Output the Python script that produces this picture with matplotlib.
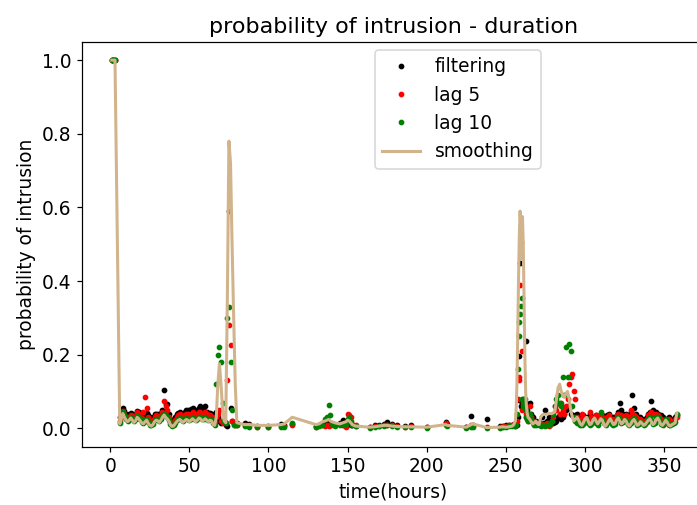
import numpy as np
import matplotlib
matplotlib.use("Agg")
import matplotlib.pyplot as plt

plt.rcParams['font.size'] = 12.2
plt.rcParams['axes.titlesize'] = 14.6

# time stamps (hours) of the observations
t_start = [1, 2, 3]
t_first = list(range(6, 81))
t_sparse = [85, 88, 93, 100, 108, 110, 115,
            130, 132, 134, 136, 137, 138, 139, 140, 142, 145,
            147, 149, 150, 151, 152, 153, 155,
            164, 167, 170, 173, 175, 178, 181, 186, 190, 200,
            212, 213, 225, 228, 229, 238,
            246, 248, 250, 252, 254, 255]
t_peak = [256, 256.5, 257, 257.5, 258, 258.5, 259, 259.5, 260, 260.5,
          261, 261.5, 262, 262.5, 263, 263.5, 264]
t_last = list(range(265, 359))

# filtering
filtering = [1.0, 1.0, 1.0] + [
    0.030, 0.050, 0.055, 0.048, 0.040, 0.035, 0.038, 0.042, 0.040, 0.036,
    0.040, 0.048, 0.045, 0.040, 0.035, 0.032, 0.038, 0.042, 0.035, 0.030,
    0.025, 0.030, 0.038, 0.040, 0.038, 0.035, 0.042, 0.050, 0.105, 0.065,
    0.065, 0.040, 0.025, 0.015, 0.020, 0.030, 0.038, 0.042, 0.045, 0.040,
    0.040, 0.045, 0.050, 0.050, 0.048, 0.052, 0.055, 0.050, 0.048, 0.050,
    0.055, 0.060, 0.050, 0.048, 0.060, 0.045, 0.040, 0.042, 0.040, 0.030, 0.025,
    0.045, 0.030, 0.020, 0.015, 0.020, 0.020, 0.010, 0.005, 0.590, 0.055, 0.020, 0.015, 0.012, 0.015,
] + [
    0.015, 0.012, 0.006, 0.005, 0.012, 0.008, 0.012,
    0.006, 0.010, 0.012, 0.010, 0.015, 0.018, 0.015, 0.012, 0.010, 0.015,
    0.023, 0.018, 0.015, 0.012, 0.010, 0.008, 0.006,
    0.004, 0.008, 0.010, 0.012, 0.018, 0.012, 0.010, 0.006, 0.010, 0.004,
    0.018, 0.012, 0.004, 0.034, 0.010, 0.024,
    0.005, 0.006, 0.008, 0.010, 0.010, 0.012,
] + [
    0.005, 0.008, 0.010, 0.030, 0.078, 0.195, 0.450, 0.060, 0.055, 0.070,
    0.080, 0.075, 0.060, 0.236, 0.070, 0.050, 0.040,
] + [
    0.070, 0.040, 0.030, 0.020, 0.020, 0.015, 0.018, 0.012, 0.030, 0.015,
    0.050, 0.020, 0.030, 0.020, 0.020, 0.015, 0.018, 0.020, 0.030, 0.040,
    0.025, 0.030, 0.040, 0.050, 0.060, 0.055, 0.040, 0.035, 0.030, 0.035,
    0.040, 0.030, 0.025, 0.030, 0.035, 0.030, 0.025, 0.030, 0.038, 0.030,
    0.025, 0.030, 0.035, 0.028, 0.030, 0.040, 0.035, 0.025, 0.030, 0.035,
    0.040, 0.030, 0.025, 0.030, 0.028, 0.035, 0.045, 0.070, 0.050, 0.040,
    0.035, 0.040, 0.030, 0.035, 0.045, 0.090, 0.055, 0.040, 0.030, 0.025,
    0.030, 0.025, 0.020, 0.025, 0.030, 0.040, 0.045, 0.075, 0.050, 0.040,
    0.045, 0.040, 0.035, 0.035, 0.030, 0.025, 0.020, 0.025, 0.030, 0.025,
    0.020, 0.025, 0.030, 0.035,
]

# fixed lag smoothing, lag 5
lag5 = [1.0, 1.0, 1.0] + [
    0.020, 0.040, 0.048, 0.040, 0.032, 0.028, 0.030, 0.035, 0.034, 0.030,
    0.035, 0.045, 0.040, 0.032, 0.028, 0.045, 0.085, 0.055, 0.030, 0.020,
    0.018, 0.022, 0.030, 0.035, 0.032, 0.028, 0.035, 0.045, 0.075, 0.060,
    0.050, 0.030, 0.018, 0.010, 0.015, 0.022, 0.030, 0.035, 0.038, 0.035,
    0.032, 0.036, 0.040, 0.040, 0.036, 0.040, 0.044, 0.040, 0.036, 0.040,
    0.045, 0.045, 0.038, 0.036, 0.045, 0.038, 0.032, 0.035, 0.032, 0.022, 0.018,
    0.030, 0.040, 0.050, 0.020, 0.015, 0.020, 0.015, 0.130, 0.280, 0.225, 0.020, 0.012, 0.010, 0.010,
] + [
    0.010, 0.008, 0.004, 0.004, 0.006, 0.006, 0.008,
    0.004, 0.008, 0.010, 0.006, 0.008, 0.005, 0.008, 0.010, 0.008, 0.012,
    0.010, 0.004, 0.038, 0.036, 0.030, 0.012, 0.008,
    0.003, 0.005, 0.006, 0.008, 0.010, 0.008, 0.006, 0.004, 0.006, 0.003,
    0.014, 0.010, 0.003, 0.008, 0.006, 0.003,
    0.004, 0.005, 0.006, 0.008, 0.010, 0.010,
] + [
    0.010, 0.012, 0.020, 0.080, 0.130, 0.140, 0.390, 0.505, 0.210, 0.050,
    0.070, 0.060, 0.055, 0.040, 0.030, 0.025, 0.020,
] + [
    0.060, 0.030, 0.020, 0.015, 0.015, 0.012, 0.015, 0.010, 0.012, 0.008,
    0.010, 0.015, 0.006, 0.010, 0.020, 0.030, 0.060, 0.050, 0.070, 0.040,
    0.070, 0.050, 0.040, 0.060, 0.080, 0.120, 0.140, 0.147, 0.100, 0.080,
    0.030, 0.025, 0.020, 0.040, 0.030, 0.025, 0.020, 0.025, 0.045, 0.030,
    0.020, 0.025, 0.035, 0.025, 0.020, 0.035, 0.030, 0.020, 0.025, 0.030,
    0.035, 0.025, 0.020, 0.025, 0.020, 0.035, 0.040, 0.030, 0.035, 0.030,
    0.030, 0.035, 0.025, 0.030, 0.050, 0.040, 0.035, 0.030, 0.025, 0.020,
    0.025, 0.020, 0.015, 0.020, 0.025, 0.035, 0.040, 0.045, 0.040, 0.035,
    0.040, 0.035, 0.030, 0.025, 0.020, 0.020, 0.015, 0.020, 0.025, 0.020,
    0.015, 0.020, 0.025, 0.030,
]

# fixed lag smoothing, lag 10
lag10 = [1.0, 1.0, 1.0] + [
    0.015, 0.030, 0.045, 0.035, 0.025, 0.020, 0.024, 0.030, 0.026, 0.020,
    0.024, 0.034, 0.030, 0.024, 0.018, 0.015, 0.022, 0.026, 0.018, 0.010,
    0.008, 0.012, 0.022, 0.026, 0.024, 0.020, 0.026, 0.034, 0.040, 0.035,
    0.030, 0.022, 0.012, 0.006, 0.008, 0.015, 0.022, 0.026, 0.028, 0.024,
    0.020, 0.024, 0.028, 0.026, 0.022, 0.026, 0.030, 0.026, 0.022, 0.026,
    0.032, 0.030, 0.024, 0.026, 0.030, 0.026, 0.022, 0.026, 0.024, 0.014, 0.010,
    0.120, 0.200, 0.220, 0.180, 0.070, 0.020, 0.015, 0.300, 0.330, 0.180, 0.050, 0.010, 0.008, 0.008,
] + [
    0.005, 0.004, 0.003, 0.003, 0.004, 0.004, 0.015,
    0.003, 0.006, 0.010, 0.025, 0.030, 0.062, 0.035, 0.012, 0.006, 0.010,
    0.008, 0.012, 0.025, 0.030, 0.020, 0.008, 0.005,
    0.002, 0.004, 0.005, 0.006, 0.008, 0.006, 0.004, 0.003, 0.004, 0.002,
    0.008, 0.006, 0.002, 0.004, 0.003, 0.000,
    0.002, 0.003, 0.004, 0.005, 0.006, 0.008,
] + [
    0.005, 0.010, 0.040, 0.160, 0.250, 0.288, 0.310, 0.333, 0.353, 0.080,
    0.060, 0.070, 0.080, 0.050, 0.030, 0.025, 0.020,
] + [
    0.040, 0.025, 0.015, 0.010, 0.010, 0.012, 0.008, 0.006, 0.010, 0.008,
    0.006, 0.008, 0.010, 0.012, 0.020, 0.040, 0.060, 0.080, 0.090, 0.070,
    0.060, 0.140, 0.090, 0.222, 0.140, 0.230, 0.210, 0.060, 0.030, 0.020,
    0.015, 0.018, 0.010, 0.008, 0.012, 0.020, 0.025, 0.015, 0.010, 0.012,
    0.018, 0.022, 0.015, 0.010, 0.020, 0.045, 0.025, 0.015, 0.010, 0.015,
    0.022, 0.020, 0.012, 0.008, 0.012, 0.025, 0.030, 0.022, 0.015, 0.018,
    0.025, 0.020, 0.012, 0.008, 0.015, 0.022, 0.028, 0.018, 0.010, 0.012,
    0.018, 0.014, 0.010, 0.012, 0.018, 0.025, 0.030, 0.022, 0.012, 0.015,
    0.030, 0.030, 0.022, 0.012, 0.010, 0.016, 0.024, 0.018, 0.010, 0.008,
    0.012, 0.014, 0.018, 0.040,
]

# full smoothing
smoothing = [1.0, 1.0, 1.0] + [
    0.012, 0.025, 0.040, 0.030, 0.022, 0.018, 0.022, 0.028, 0.022, 0.016,
    0.020, 0.030, 0.026, 0.020, 0.014, 0.012, 0.018, 0.022, 0.014, 0.008,
    0.006, 0.010, 0.018, 0.022, 0.020, 0.016, 0.022, 0.030, 0.036, 0.030,
    0.026, 0.020, 0.010, 0.005, 0.006, 0.012, 0.018, 0.022, 0.024, 0.020,
    0.016, 0.020, 0.024, 0.022, 0.018, 0.022, 0.026, 0.022, 0.018, 0.022,
    0.028, 0.026, 0.020, 0.022, 0.026, 0.022, 0.018, 0.022, 0.020, 0.010, 0.008,
    0.030, 0.120, 0.175, 0.120, 0.050, 0.020, 0.015, 0.350, 0.780, 0.720, 0.500, 0.300, 0.120, 0.015,
] + [
    0.010, 0.010, 0.008, 0.008, 0.010, 0.012, 0.030,
    0.010, 0.012, 0.018, 0.020, 0.022, 0.024, 0.020, 0.018, 0.015, 0.012,
    0.015, 0.018, 0.022, 0.020, 0.015, 0.010, 0.006,
    0.003, 0.004, 0.006, 0.008, 0.008, 0.006, 0.005, 0.004, 0.004, 0.003,
    0.010, 0.008, 0.003, 0.010, 0.012, 0.002,
    0.003, 0.004, 0.003, 0.004, 0.006, 0.010,
] + [
    0.020, 0.050, 0.120, 0.250, 0.400, 0.520, 0.590, 0.540, 0.460, 0.575,
    0.500, 0.350, 0.200, 0.100, 0.060, 0.040, 0.030,
] + [
    0.025, 0.018, 0.012, 0.015, 0.020, 0.012, 0.010, 0.030, 0.036, 0.038,
    0.038, 0.038, 0.040, 0.040, 0.040, 0.042, 0.045, 0.080, 0.110, 0.120,
    0.100, 0.090, 0.085, 0.095, 0.100, 0.080, 0.050, 0.030, 0.020, 0.025,
    0.030, 0.022, 0.012, 0.008, 0.015, 0.025, 0.030, 0.020, 0.010, 0.012,
    0.022, 0.028, 0.020, 0.012, 0.018, 0.026, 0.022, 0.010, 0.006, 0.012,
    0.020, 0.026, 0.018, 0.010, 0.012, 0.022, 0.028, 0.020, 0.012, 0.015,
    0.024, 0.020, 0.010, 0.006, 0.012, 0.020, 0.024, 0.016, 0.008, 0.010,
    0.018, 0.014, 0.008, 0.010, 0.016, 0.022, 0.026, 0.018, 0.010, 0.014,
    0.024, 0.028, 0.020, 0.010, 0.008, 0.014, 0.022, 0.016, 0.008, 0.006,
    0.010, 0.012, 0.015, 0.040,
]

time = np.array(t_start + t_first + t_sparse + t_peak + t_last, dtype=float)

fig = plt.figure(figsize=(697 / 110, 505 / 110), dpi=110)
ax = fig.add_axes([82 / 697, 1 - 446.7 / 505, 623 / 697, 405 / 505])

ax.plot(time, filtering, 'k.', markersize=5.5, label="filtering")
ax.plot(time, lag5, 'r.', markersize=5.5, label="lag 5")
ax.plot(time, lag10, 'g.', markersize=5.5, label="lag 10")
ax.plot(time, smoothing, color='tan', linewidth=2, label="smoothing")

ax.set_xlim(-17.85, 375.85)
ax.set_ylim(-0.05, 1.05)
ax.set_title("probability of intrusion - duration")
ax.set_xlabel("time(hours)")
ax.set_ylabel("probability of intrusion")
ax.legend(loc='upper left', bbox_to_anchor=(0.470, 0.98), borderaxespad=0)

fig.savefig("out.png", dpi=110)
